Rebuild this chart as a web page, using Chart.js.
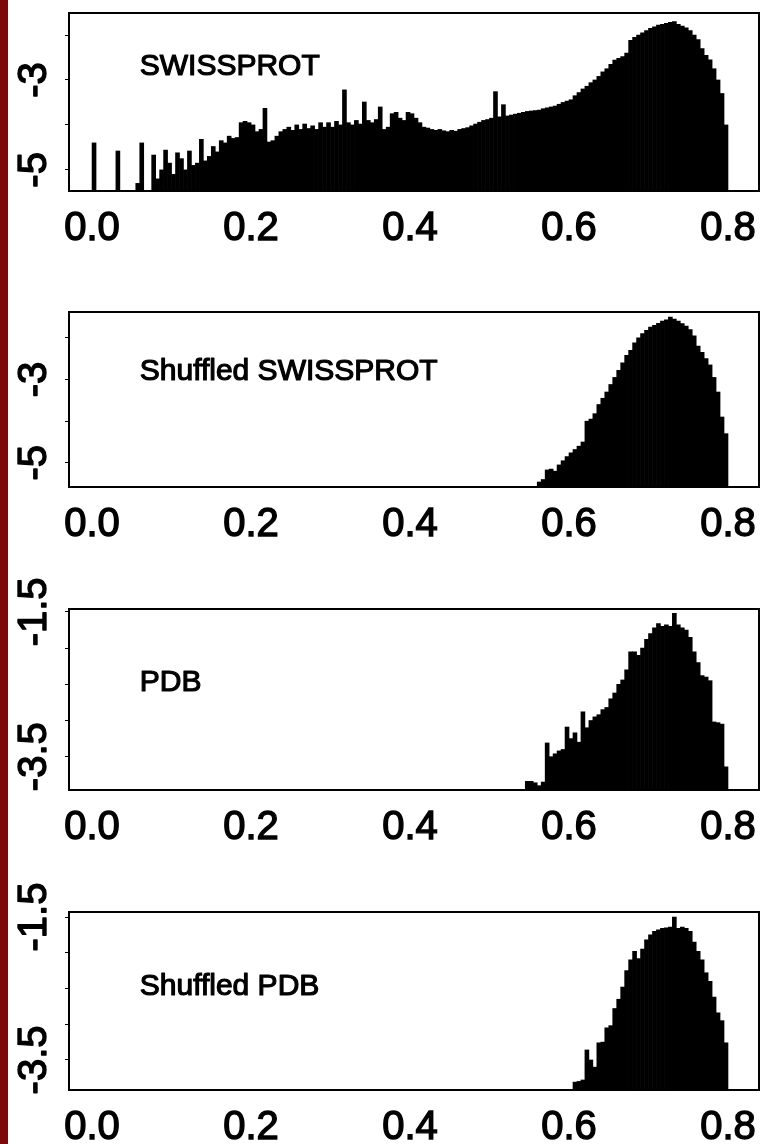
<!DOCTYPE html>
<html><head><meta charset="utf-8">
<script src="https://cdn.jsdelivr.net/npm/chart.js@4.4.1/dist/chart.umd.min.js"></script>
<style>
html,body{margin:0;padding:0;background:#fff;}
body{width:763px;height:1144px;position:relative;overflow:hidden;}
#strip{position:absolute;left:0;top:0;width:8px;height:1144px;background:#7d0a0a;}
canvas{position:absolute;left:0;}
</style></head><body>
<div id="strip"></div>
<canvas id="c1" width="763" height="241" style="top:0px"></canvas>
<canvas id="c2" width="763" height="265" style="top:272px"></canvas>
<canvas id="c3" width="763" height="271" style="top:569px"></canvas>
<canvas id="c4" width="763" height="268" style="top:872px"></canvas>
<script>
// ---- data (log10 relative frequency per histogram bin, bin width 0.005 from 0.0 to 0.8) ----
const BIN_WIDTH = 0.005;
const BIN_COUNT = 160;
const binCenters = Array.from({length: BIN_COUNT}, (_, i) => +(i * BIN_WIDTH + BIN_WIDTH / 2).toFixed(4));
const xTicks = [0.0, 0.2, 0.4, 0.6, 0.8];

const panelTitles = ['SWISSPROT', 'Shuffled SWISSPROT', 'PDB', 'Shuffled PDB'];

const swissprot = [
  -4.4, null, null, null, null, null, -4.58, null, null, null,
  null, -5.3, -4.4, null, null, -4.67, -5.2, -5.0, -4.56, -4.85,
  -5.1, -4.62, -4.75, -5.0, -4.58, -4.9, -4.85, -4.32, -4.8, -4.7,
  -4.48, -4.6, -4.35, -4.4, -4.25, -4.3, -4.28, -3.95, -3.92, -3.95,
  -4.0, -4.15, -4.1, -3.63, -4.38, -4.35, -4.25, -4.15, -4.1, -4.05,
  -4.12, -4.0, -4.1, -3.98, -4.08, -4.02, -4.1, -3.95, -4.05, -3.95,
  -4.05, -3.92, -4.0, -3.22, -3.95, -4.0, -3.9, -3.98, -3.49, -3.9,
  -3.95, -3.88, -3.6, -4.1, -4.05, -3.75, -3.72, -3.85, -3.9, -3.72,
  -3.75, -3.85, -3.95, -4.05, -4.07, -4.1, -4.12, -4.1, -4.13, -4.15,
  -4.12, -4.14, -4.1, -4.08, -4.06, -4.02, -3.98, -3.94, -3.9, -3.88,
  -3.85, -3.26, -3.82, -3.55, -3.8, -3.78, -3.76, -3.74, -3.72, -3.7,
  -3.69, -3.68, -3.67, -3.64, -3.62, -3.6, -3.58, -3.54, -3.5, -3.47,
  -3.44, -3.35, -3.28, -3.2, -3.14, -3.06, -3.0, -2.92, -2.82, -2.75,
  -2.65, -2.56, -2.52, -2.48, -2.4, -2.12, -2.05, -2.0, -1.95, -1.9,
  -1.85, -1.82, -1.78, -1.76, -1.74, -1.72, -1.7, -1.76, -1.8, -1.84,
  -1.9, -2.0, -2.1, -2.3, -2.45, -2.55, -2.75, -3.0, -3.3, -4.0
];

// empty bins below 0.56
const shuffledSwissprot = Array(112).fill(null).concat([
  -5.46, -5.4, -5.17, -5.15, -5.2, -5.05, -4.95, -4.85,
  -4.76, -4.68, -4.6, -4.5, -4.0, -3.95, -3.82, -3.6, -3.45, -3.3,
  -3.12, -2.95, -2.78, -2.6, -2.42, -2.3, -2.12, -2.0, -1.9, -1.82,
  -1.74, -1.7, -1.65, -1.6, -1.57, -1.5, -1.55, -1.6, -1.66, -1.72,
  -1.8, -1.95, -2.2, -2.35, -2.5, -2.65, -2.95, -3.3, -3.9, -4.3
]);

// empty bins below 0.545
const pdb = Array(109).fill(null).concat([
  -3.84, -3.84, -3.86, -3.9, -3.85, -3.31, -3.5, -3.46, -3.42, -3.4, -3.09,
  -3.25, -3.17, -3.3, -2.88, -3.1, -3.0, -2.95, -2.92, -2.85, -2.82,
  -2.7, -2.62, -2.5, -2.44, -2.3, -2.05, -2.05, -2.1, -2.0, -1.88,
  -1.8, -1.72, -1.66, -1.7, -1.68, -1.7, -1.52, -1.68, -1.72, -1.75,
  -1.85, -2.05, -2.2, -2.38, -2.4, -2.45, -3.02, -3.03, -3.05, -3.64
]);

// empty bins below 0.605
const shuffledPdb = Array(121).fill(null).concat([
  -3.81, -3.8, -3.78, -3.36, -3.5, -3.6, -3.26, -3.25, -3.05,
  -3.02, -2.78, -2.65, -2.48, -2.25, -2.1, -1.98, -2.08, -1.95, -1.82,
  -1.75, -1.7, -1.68, -1.66, -1.65, -1.64, -1.5, -1.66, -1.64, -1.66,
  -1.7, -1.85, -1.98, -2.1, -2.28, -2.4, -2.62, -2.84, -2.95, -3.26
]);

const yTicksWide = [-5, -4, -3, -2];
const yLabelsWide = [-5, -3];
const yTicksNarrow = [-3.5, -3, -2.5, -2, -1.5];
const yLabelsNarrow = [-3.5, -1.5];

// ---- drawing ----
const FONT = "'Liberation Sans', Arial, Helvetica, sans-serif";

const framePlugin = {
  id: 'frame',
  afterDraw(chart, args, opts) {
    const {ctx, chartArea: a, scales} = chart;
    ctx.save();
    ctx.strokeStyle = '#000';
    ctx.lineWidth = 2;
    ctx.strokeRect(a.left, a.top, a.right - a.left, a.bottom - a.top);
    ctx.fillStyle = '#000';
    ctx.lineWidth = 1.4;
    ctx.lineJoin = 'round';
    ctx.font = '40px ' + FONT;
    ctx.textAlign = 'center';
    ctx.textBaseline = 'middle';
    opts.yLabels.forEach(v => {
      const y = scales.y.getPixelForValue(v);
      ctx.save();
      ctx.translate(opts.yLabelX, y);
      ctx.rotate(-Math.PI / 2);
      ctx.strokeText(String(v), 0, 0);
      ctx.fillText(String(v), 0, 0);
      ctx.restore();
    });
    ctx.font = '30px ' + FONT;
    ctx.textAlign = 'left';
    ctx.lineWidth = 1.2;
    const tx = scales.x.getPixelForValue(opts.titleAt[0]);
    const ty = scales.y.getPixelForValue(opts.titleAt[1]);
    ctx.strokeText(opts.title, tx, ty);
    ctx.fillText(opts.title, tx, ty);
    ctx.restore();
  }
};

function makePanel(id, values, padTop, yMin, yMax, yTicks, yLabels, title, titleAt) {
  new Chart(document.getElementById(id), {
    type: 'bar',
    data: {
      datasets: [{
        data: binCenters.map((x, i) => ({x: x, y: values[i]})),
        backgroundColor: '#000',
        borderWidth: 0,
        base: yMin,
        barPercentage: 1,
        categoryPercentage: 1
      }]
    },
    options: {
      responsive: false,
      animation: false,
      layout: {padding: {left: 0, right: 4, top: padTop, bottom: 0}},
      plugins: {
        legend: {display: false},
        tooltip: {enabled: false},
        frame: {yLabels: yLabels, yLabelX: 35, title: title, titleAt: titleAt}
      },
      scales: {
        x: {
          type: 'linear', min: -0.029, max: 0.839, offset: false,
          afterBuildTicks: s => { s.ticks = xTicks.map(v => ({value: v})); },
          afterFit: s => { s.height = 50; },
          grid: {display: false},
          border: {display: false},
          ticks: {color: '#000', padding: 6, maxRotation: 0, autoSkip: false,
                  textStrokeColor: '#000', textStrokeWidth: 1.4,
                  font: {family: FONT, size: 40},
                  callback: v => Number(v).toFixed(1)}
        },
        y: {
          min: yMin, max: yMax,
          afterBuildTicks: s => { s.ticks = yTicks.map(v => ({value: v})); },
          afterFit: s => { s.width = 69; },
          grid: {drawOnChartArea: false, drawTicks: true, tickLength: 4, color: '#000', lineWidth: 1},
          border: {display: false},
          ticks: {display: false}
        }
      }
    },
    plugins: [framePlugin]
  });
}

makePanel('c1', swissprot, 13, -5.47, -1.51, yTicksWide, yLabelsWide, panelTitles[0], [0.06, -2.71]);
makePanel('c2', shuffledSwissprot, 40, -5.58, -1.38, yTicksWide, yLabelsWide, panelTitles[1], [0.06, -2.82]);
makePanel('c3', pdb, 40, -3.96, -1.46, yTicksNarrow, yLabelsNarrow, panelTitles[2], [0.06, -2.48]);
makePanel('c4', shuffledPdb, 40, -3.92, -1.43, yTicksNarrow, yLabelsNarrow, panelTitles[3], [0.06, -2.47]);
</script>
</body></html>
